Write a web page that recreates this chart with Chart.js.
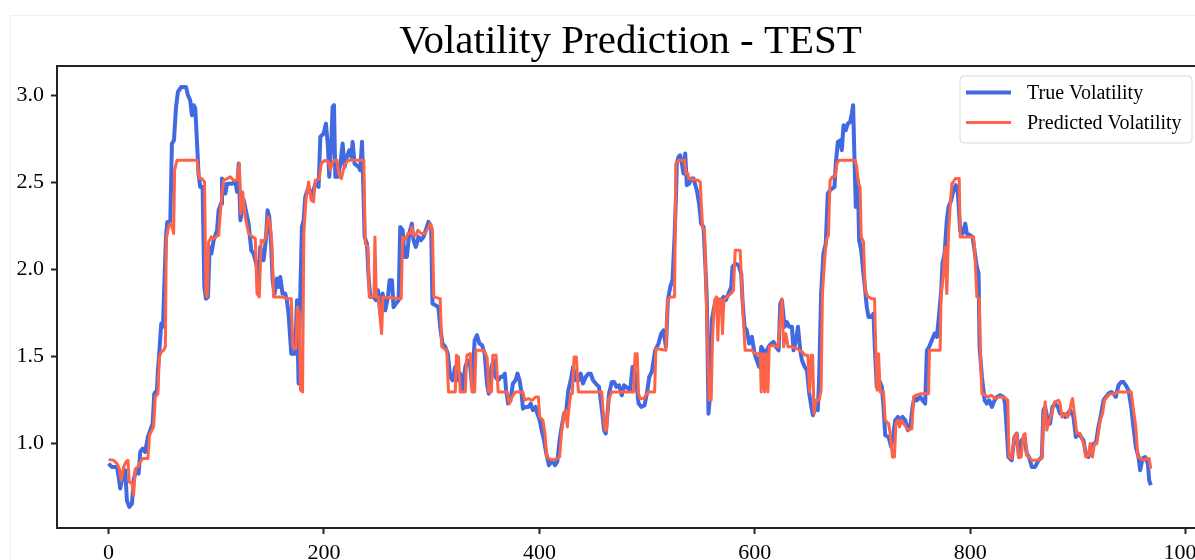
<!DOCTYPE html>
<html>
<head>
<meta charset="utf-8">
<title>Volatility Prediction - TEST</title>
<script src="https://cdn.jsdelivr.net/npm/chart.js@4.4.0/dist/chart.umd.min.js"></script>
<style>
    html, body { margin: 0; padding: 0; overflow: hidden; background: #fff; }
    #wrap { position: relative; width: 1215px; height: 560px; }
</style>
</head>
<body>
<div id="wrap"><canvas id="volChart" width="1215" height="560"></canvas></div>
<script>
const chartTitle = 'Volatility Prediction - TEST';
const seriesLabels = ['True Volatility', 'Predicted Volatility'];
const xTicks = [0, 200, 400, 600, 800, 1000];
const yTicks = [1.0, 1.5, 2.0, 2.5, 3.0];

// [time step, volatility]
const trueVolatility = [
    [0, 0.883], [3, 0.864], [7.8, 0.864], [9.3, 0.807], [10.8, 0.740], [12.4, 0.787], [14, 0.845], [15.5, 0.845],
    [17, 0.672], [19.2, 0.634], [21.7, 0.653], [23.2, 0.787], [25.4, 0.845], [27.9, 0.826], [29.4, 0.950], [31.6, 0.969],
    [34, 0.950], [36.5, 1.036], [38.7, 1.075], [40.9, 1.113], [42.4, 1.285], [44.9, 1.305], [45.8, 1.420], [47, 1.515],
    [48.9, 1.688], [50.5, 1.669], [52, 1.956], [53.3, 2.186], [54.5, 2.272], [57.3, 2.272], [58.8, 2.722], [60.7, 2.741],
    [62.6, 2.933], [64.4, 3.019], [67.5, 3.048], [71.9, 3.048], [73.7, 3.000], [75.8, 2.971], [77.4, 2.885], [79, 2.943],
    [80.5, 2.923], [82, 2.741], [83.6, 2.540], [85.1, 2.473], [87.3, 2.473], [88.9, 1.898], [90.4, 1.831], [92.3, 1.841],
    [93.8, 2.128], [95.4, 2.090], [97.6, 2.167], [100.7, 2.224], [102.2, 2.339], [104.4, 2.377], [105.3, 2.521], [108.4, 2.435],
    [110, 2.492], [114.6, 2.492], [117.7, 2.502], [119.3, 2.444], [120.8, 2.607], [122.4, 2.282], [125.5, 2.397],
    [130, 2.262], [132.5, 2.109], [134.6, 2.090], [137.8, 2.013], [139.3, 1.937], [140.8, 2.128], [143.9, 2.052], [146, 2.167],
    [147.6, 2.339], [149.2, 2.301], [151, 2.128], [152.3, 1.937], [154.1, 1.860], [156.3, 1.946], [157.8, 1.898], [159.4, 1.956],
    [161.5, 1.860], [164, 1.860], [165.5, 1.822], [167.1, 1.745], [169.6, 1.515], [173.3, 1.515], [174.9, 1.822], [176.4, 1.343],
    [177.4, 1.707], [179.5, 2.243], [181.1, 2.282], [182.6, 2.416], [185.7, 2.473], [188.8, 2.416], [191.9, 2.492], [195, 2.473],
    [196.6, 2.761], [199.7, 2.780], [201.8, 2.837], [203.7, 2.703], [204.9, 2.531], [206.8, 2.722], [208, 2.933], [209.3, 2.943],
    [210.5, 2.531], [213, 2.531], [215.2, 2.607], [217.3, 2.722], [219.2, 2.588], [221.3, 2.646], [223.5, 2.684], [225.4, 2.646],
    [226.6, 2.732], [228.4, 2.607], [232.2, 2.588], [233.6, 2.569], [235.3, 2.732], [236.8, 2.416], [237.7, 2.186], [239.9, 2.147],
    [241.4, 1.956], [243, 1.841], [246.1, 1.841], [248.2, 1.822], [250.1, 1.879], [252.3, 1.745], [254.4, 1.860], [256.9, 1.764],
    [259.4, 1.841], [260.9, 1.937], [263.1, 1.937], [264.6, 1.783], [266.8, 1.803], [269.3, 1.822], [270.8, 2.243], [273, 2.224],
    [274.8, 2.071], [277, 2.071], [279.1, 2.205], [281.6, 2.262], [283.1, 2.167], [285.3, 2.128], [287.8, 2.186], [290.2, 2.167],
    [292.4, 2.186], [294.5, 2.224], [297, 2.272], [299.5, 2.243], [300.7, 1.803],
    [306.2, 1.783], [307.9, 1.669], [310, 1.573], [312.5, 1.554], [315, 1.515], [317.2, 1.381], [319.4, 1.362], [321.9, 1.439],
    [324.4, 1.362], [326.5, 1.400], [328.7, 1.305], [331.2, 1.439], [333.4, 1.477], [335.9, 1.439], [337.4, 1.324], [339.9, 1.592],
    [342.1, 1.621], [344.3, 1.573], [346.8, 1.563], [349.2, 1.515], [351.4, 1.343], [353, 1.285], [355.5, 1.439], [357.6, 1.477],
    [359.2, 1.381], [361.7, 1.362], [363.8, 1.381], [365.4, 1.381], [367.9, 1.400], [369.1, 1.305], [371, 1.228], [373.2, 1.247],
    [375.4, 1.343], [377.9, 1.362], [379.7, 1.400], [381.6, 1.362], [383.5, 1.285], [384.7, 1.199], [387.2, 1.209], [389.7, 1.209],
    [391.9, 1.228], [394, 1.190], [396.5, 1.209], [398.1, 1.170], [400.3, 1.132], [402.1, 1.075], [404.3, 1.017], [406.4, 0.941],
    [408.9, 0.874], [412, 0.902], [414.5, 0.874], [416.6, 0.893], [418.8, 1.017], [420.7, 1.094], [422.9, 1.170], [425, 1.190],
    [426.9, 1.305], [429.1, 1.362], [431.3, 1.439], [433.7, 1.362], [436.2, 1.362], [438.4, 1.400], [440.5, 1.343], [443, 1.381],
    [445.5, 1.400], [447.7, 1.400], [449.8, 1.362], [452.3, 1.343], [455.4, 1.324], [458.5, 1.170], [460.1, 1.075], [461.6, 1.056],
    [463.2, 1.170], [464.7, 1.285], [467.2, 1.352], [469.4, 1.352], [471.5, 1.324], [474, 1.333], [476.5, 1.276], [478.6, 1.333],
    [484.3, 1.305], [486.5, 1.439], [488.3, 1.420], [490.5, 1.324], [492.1, 1.228], [494.5, 1.209], [497.6, 1.218], [499.8, 1.285],
    [502, 1.381], [504.4, 1.410], [507.5, 1.534], [510.6, 1.573], [513.1, 1.630], [515.3, 1.649], [517.5, 1.554], [519.3, 1.822],
    [521.5, 1.898], [523.6, 1.937], [525.5, 2.186], [526.7, 2.397], [527.6, 2.607], [529.2, 2.646], [530.7, 2.655], [532.3, 2.607],
    [533.8, 2.550], [535.4, 2.665], [536.9, 2.483], [539.1, 2.492], [540.9, 2.521], [543.1, 2.521], [546.2, 2.454], [548.3, 2.377],
    [550.2, 2.262], [552.4, 2.243], [553.9, 2.052], [555.5, 1.822], [557, 1.170], [558.6, 1.285], [560.1, 1.707], [561.7, 1.764],
    [563.8, 1.822], [566.3, 1.783], [568.8, 1.822], [571, 1.841], [573.1, 1.822], [575.6, 1.860], [578.1, 1.898], [579.3, 2.013],
    [581.8, 2.033], [584.9, 2.023], [587.4, 1.975], [588.6, 1.822], [590.5, 1.669], [592.6, 1.649], [594.8, 1.573], [597.3, 1.611],
    [599.8, 1.515], [601.9, 1.477], [604.1, 1.439], [606, 1.554], [608.2, 1.534], [610.3, 1.515], [612.8, 1.554], [615.3, 1.573],
    [617.4, 1.582], [619.6, 1.554], [622.1, 1.534], [623.7, 1.803], [625.2, 1.822], [627.7, 1.669], [629.8, 1.697], [632, 1.669],
    [634.5, 1.669], [636, 1.534], [638.2, 1.592], [640.1, 1.669], [642.2, 1.534], [643.8, 1.477], [646.3, 1.439], [648.4, 1.420],
    [650.6, 1.285], [652.5, 1.209], [654, 1.161],
    [656, 1.209], [658.5, 1.190], [659.7, 1.362], [661.6, 1.860], [663.7, 2.090], [665.9, 2.147], [667.8, 2.435], [669.9, 2.454],
    [672.1, 2.464], [674, 2.473], [675.2, 2.607], [677.1, 2.732], [679.3, 2.741], [680.8, 2.684], [682.4, 2.828], [684.5, 2.799],
    [686.4, 2.837], [688.6, 2.847], [690.1, 2.895], [691.3, 2.943], [692.6, 2.626], [693.8, 2.358], [695.7, 2.511], [696.9, 2.167],
    [698.8, 2.109], [700.9, 1.975], [702.5, 1.879], [704, 1.783], [705.6, 1.726], [708.1, 1.726], [710.2, 1.745], [711.8, 1.496],
    [713.3, 1.324], [715.5, 1.362], [718, 1.324], [719.5, 1.209], [721.1, 1.046], [724.2, 1.036], [726.7, 0.979], [728.8, 1.056],
    [730.4, 1.132], [732.9, 1.151], [735, 1.132], [737.2, 1.151], [739.7, 1.132], [742.2, 1.075], [744.3, 1.094], [746.5, 1.209],
    [748.3, 1.266], [750.5, 1.247], [753.6, 1.266], [755.7, 1.247], [758.2, 1.228], [759.8, 1.534], [761.9, 1.554], [764.4, 1.592],
    [766.9, 1.630], [769.1, 1.611], [771.2, 1.745], [773.1, 1.879], [774.3, 2.033], [776.2, 2.090], [778.3, 2.282], [779.9, 2.358],
    [782.4, 2.397], [784.5, 2.454], [786.7, 2.483], [788.6, 2.435], [790.7, 2.224], [792.9, 2.205], [795.4, 2.262], [796.9, 2.205],
    [800, 2.195], [802.2, 2.186], [804, 2.109], [806.2, 2.013], [807.8, 1.975], [808.7, 1.554], [810.9, 1.381], [813.4, 1.247],
    [815.5, 1.228], [817.7, 1.247], [820.2, 1.209], [822.6, 1.247], [824.8, 1.266], [827.9, 1.276], [831, 1.266],
    [832.4, 1.228], [835.5, 0.921], [838.6, 0.902], [841.1, 1.036], [843.2, 1.056], [845.4, 0.921], [847.9, 1.017], [850.4, 1.036],
    [852.5, 0.941], [854.7, 0.921], [857.2, 0.864], [860.3, 0.864], [863.4, 0.902], [866.5, 0.921], [868, 1.190], [869.6, 1.209],
    [872.1, 1.132], [874.2, 1.113], [876.4, 1.209], [878.9, 1.228], [881.4, 1.209], [883.5, 1.170], [885.7, 1.170], [888.2, 1.151],
    [890.6, 1.170], [892.8, 1.190], [895.9, 1.151], [898.1, 1.036], [900.5, 1.056], [903, 1.036], [905.2, 1.017], [907.3, 0.941],
    [909.8, 0.921], [912.3, 0.979], [914.5, 0.998], [916.7, 0.998], [919.1, 1.094], [921.6, 1.170], [923.8, 1.247], [926, 1.266],
    [928.4, 1.285], [930.9, 1.295], [933.1, 1.285], [935.2, 1.266], [937.7, 1.333], [940.2, 1.352], [942.4, 1.352], [944.5, 1.333],
    [947, 1.305], [949.5, 1.209], [951.6, 1.094], [953.8, 0.979], [956.3, 0.921], [957.8, 0.845], [960, 0.912], [962.5, 0.921],
    [965, 0.883], [966.2, 0.787], [967.7, 0.759]
];

const predictedVolatility = [
    [0, 0.906], [4.7, 0.902], [7.8, 0.883], [10, 0.854], [11.8, 0.787], [14, 0.864], [16.1, 0.893], [18, 0.902],
    [19.2, 0.778], [21.7, 0.768], [23.2, 0.701], [24.8, 0.854], [27.3, 0.864], [29.4, 0.893], [31.6, 0.912], [36.5, 0.912],
    [38, 1.046], [40.3, 1.075], [41.8, 1.094], [43.4, 1.266], [45.8, 1.285], [47.1, 1.496], [48.9, 1.525], [51.1, 1.534],
    [52.7, 1.554], [53.6, 2.176], [55.7, 2.243], [57.3, 2.262], [58.8, 2.243], [60.4, 2.205], [61.3, 2.569], [63.5, 2.626],
    [82, 2.626], [84.2, 2.521], [86.6, 2.521], [89.1, 2.502], [90.4, 1.860], [91.6, 1.841], [92.9, 2.157], [95.4, 2.186],
    [97.6, 2.176], [99.7, 2.186], [102.2, 2.195], [103.7, 2.320], [105.3, 2.435], [106.8, 2.511], [110, 2.521], [113, 2.531],
    [116.1, 2.511], [119.3, 2.511], [121.4, 2.607], [122.7, 2.320], [124.5, 2.444],
    [126.9, 2.301], [130, 2.205], [133.7, 2.186], [136.2, 2.176], [137.8, 1.860], [139.9, 1.841], [141.7, 2.167], [144, 2.157],
    [146, 2.186], [147.9, 2.301], [150.1, 2.262], [151.6, 2.147], [153.2, 1.841], [161.5, 1.841], [165.5, 1.831], [169.6, 1.831],
    [171.1, 1.554], [173.9, 1.544], [175.4, 1.783], [177, 1.745], [178.2, 1.305], [180.1, 1.295], [181.3, 2.205], [183.2, 2.397],
    [185.7, 2.502], [188.1, 2.397], [190.3, 2.387], [191.9, 2.511], [195.6, 2.521], [197.5, 2.607], [200.6, 2.626], [204.3, 2.617],
    [205.9, 2.569], [207.4, 2.607], [209.9, 2.626], [212.1, 2.626], [213.6, 2.550], [216.1, 2.521], [217.9, 2.569], [219.8, 2.607],
    [222.3, 2.626], [237, 2.626], [238.3, 2.147], [240.8, 2.128], [242, 1.841], [246.4, 1.841], [247.3, 2.186], [248.6, 1.841],
    [250.7, 1.841], [252.3, 1.707], [253.5, 1.630], [254.7, 1.841], [271.7, 1.831], [273, 2.186], [275.4, 2.167], [277.9, 2.205],
    [280.1, 2.205], [281.6, 2.243], [283.1, 2.195], [285.3, 2.195], [287.2, 2.224], [290.2, 2.205], [293.9, 2.205], [297, 2.243],
    [298.9, 2.262], [300.7, 2.224], [302, 1.841],
    [307.9, 1.831], [309.4, 1.554], [314, 1.534], [315.6, 1.295], [321.9, 1.295], [323, 1.506], [324.9, 1.496], [326.5, 1.295],
    [331.2, 1.295], [332.7, 1.506], [335.9, 1.515], [337.4, 1.295], [339.9, 1.295], [341.1, 1.534], [348.3, 1.534], [349.8, 1.515],
    [351.4, 1.496], [353, 1.295], [355.5, 1.295], [356.7, 1.506], [359.8, 1.506], [361.7, 1.295], [370, 1.295], [372.2, 1.228],
    [374.6, 1.266], [377.9, 1.295], [384.7, 1.295], [386.5, 1.247], [389.7, 1.257], [393.4, 1.247], [396.5, 1.266], [399, 1.266],
    [400.3, 1.151], [403.3, 1.132], [405.2, 1.056], [406.8, 0.921], [412, 0.902], [416.6, 0.912], [418.8, 0.921], [420.7, 1.075],
    [422.9, 1.170], [424.4, 1.190], [426, 1.094], [426.9, 1.170], [429.1, 1.285], [430.6, 1.285], [432.2, 1.496], [434.3, 1.496],
    [436.2, 1.295], [457.9, 1.295], [459.1, 1.190], [460.9, 1.075], [462.5, 1.075], [464, 1.247], [467.2, 1.295],
    [487.4, 1.295], [488.9, 1.515], [490.8, 1.515], [492.1, 1.285], [493.6, 1.257], [496.7, 1.257], [499.8, 1.285], [501.4, 1.295],
    [507, 1.295], [508.2, 1.544], [517.5, 1.534], [519, 1.822], [521.5, 1.841], [525.5, 1.841], [526.7, 2.607], [529.2, 2.626],
    [534.8, 2.626], [536, 2.550], [537.9, 2.550], [538.5, 2.521], [547.1, 2.511], [549.3, 2.502], [551.5, 2.243], [553.3, 2.224],
    [554.9, 1.841], [557.6, 1.247], [559.5, 1.247], [560.7, 1.592], [562.6, 1.822], [564.5, 1.841], [565.7, 1.592], [566.9, 1.831],
    [568.8, 1.822], [570, 1.630], [571.3, 1.822], [574, 1.841], [578.1, 1.860], [580.2, 1.879], [581.8, 2.109], [586.4, 2.109],
    [588, 1.898], [589.5, 1.707], [591, 1.534], [597.3, 1.534], [600.3, 1.515], [605, 1.515], [606, 1.295], [607.2, 1.515],
    [609.1, 1.295], [610.3, 1.515], [612.2, 1.295], [613.4, 1.554], [615.9, 1.563], [621.5, 1.554], [623.7, 1.707], [625.2, 1.831],
    [626.8, 1.554], [628.9, 1.630], [630.8, 1.554], [634.5, 1.554], [639.2, 1.544], [643.8, 1.525], [646.9, 1.506], [649.3, 1.506],
    [650.9, 1.295], [652.5, 1.506], [653.7, 1.506], [655, 1.170],
    [656.8, 1.247], [659.7, 1.247], [661.6, 1.305], [662.8, 1.860], [665.3, 2.090], [666.8, 2.176], [668.4, 2.195], [669.9, 2.511],
    [672.1, 2.531], [674.6, 2.531], [676.2, 2.607], [678.3, 2.626], [693.2, 2.626], [694.7, 2.588], [696.3, 2.492], [697.8, 2.473],
    [698.8, 2.186], [700.9, 2.157], [702.5, 1.879], [705, 1.841], [708.7, 1.831], [711.2, 1.831], [712.4, 1.515], [713.6, 1.305],
    [714.9, 1.515], [716.4, 1.295], [719.5, 1.295], [721.1, 1.132], [724.2, 1.113], [725.7, 1.056], [727.9, 0.921], [729.7, 0.921],
    [731, 1.113], [732.9, 1.132], [734.4, 1.094], [736, 1.132], [738.2, 1.113], [740.3, 1.094], [742.8, 1.075], [745.9, 1.084],
    [747.4, 1.266], [749.6, 1.276], [754.5, 1.285], [761.3, 1.285], [762.2, 1.534], [772.1, 1.534], [773, 1.860], [775.2, 1.975],
    [776.7, 2.128], [778.3, 1.860], [779.9, 2.205], [781.4, 2.358], [783, 2.492], [784.5, 2.502], [786.1, 2.521], [789.8, 2.521],
    [790.7, 2.186], [803.1, 2.186], [804, 2.128], [806.2, 1.841], [808.4, 1.831], [809.3, 1.554], [810.9, 1.285], [814, 1.276],
    [816.4, 1.266], [819.5, 1.276], [823.3, 1.257], [827, 1.266], [831, 1.266],
    [834.9, 1.247], [836.1, 0.921], [838.6, 0.912], [841.1, 1.036], [843.2, 1.056], [844.8, 0.921], [847.3, 0.921], [849.4, 1.046],
    [851, 1.056], [852.5, 0.931], [854.7, 0.921], [857.2, 0.902], [861.8, 0.902], [866.5, 0.912], [868, 1.132], [869.6, 1.238],
    [871.1, 1.075], [872.7, 1.113], [875.8, 1.170], [878.3, 1.238], [882, 1.247], [883.5, 1.228], [885.1, 1.151], [888.2, 1.170],
    [890.6, 1.151], [892.2, 1.180], [893.7, 1.228], [895, 1.257], [896.8, 1.170], [899, 1.056], [902.1, 1.056], [904.3, 1.017],
    [906.1, 0.979], [907.3, 0.921], [909.8, 0.931], [911.4, 0.998], [913.6, 0.921], [915.4, 0.998], [917.6, 0.998], [920.7, 1.132],
    [922.9, 1.170], [924.7, 1.247], [926.9, 1.266], [930, 1.285], [934.6, 1.285], [937.7, 1.295], [949.5, 1.295], [951.6, 1.190],
    [953.8, 1.094], [955.7, 0.921], [958.8, 0.912], [960.9, 0.902], [964, 0.912], [966.2, 0.912], [967.7, 0.854]
];

const trueColor = '#4169E1';   // royalblue
const predColor = '#FF6347';   // tomato
const serif = '"Liberation Serif", "Times New Roman", serif';

// matplotlib look: title, full frame, legend box in the upper right
const mplPlugin = {
    id: 'mplLook',
    beforeDraw(chart) {
        const ctx = chart.ctx;
        const area = chart.chartArea;
        ctx.save();
        ctx.fillStyle = '#fff';
        ctx.fillRect(0, 0, chart.width, chart.height);
        ctx.strokeStyle = '#f0f0f0';
        ctx.lineWidth = 1;
        ctx.beginPath();
        ctx.moveTo(10.5, chart.height);
        ctx.lineTo(10.5, 15.5);
        ctx.lineTo(chart.width, 15.5);
        ctx.stroke();
        ctx.fillStyle = '#000';
        ctx.font = '41px ' + serif;
        ctx.textAlign = 'center';
        ctx.textBaseline = 'alphabetic';
        ctx.fillText(chartTitle, (area.left + area.right) / 2, 53);
        ctx.restore();
    },
    afterDatasetsDraw(chart) {
        const ctx = chart.ctx;
        const area = chart.chartArea;
        ctx.save();
        // spines
        ctx.strokeStyle = '#222';
        ctx.lineWidth = 2;
        ctx.strokeRect(area.left, area.top, area.right - area.left, area.bottom - area.top);

        // legend
        const boxR = area.right - 12;
        const boxT = area.top + 10;
        const boxW = 232, boxH = 67, r = 4;
        const boxL = boxR - boxW;
        ctx.beginPath();
        ctx.moveTo(boxL + r, boxT);
        ctx.arcTo(boxR, boxT, boxR, boxT + boxH, r);
        ctx.arcTo(boxR, boxT + boxH, boxL, boxT + boxH, r);
        ctx.arcTo(boxL, boxT + boxH, boxL, boxT, r);
        ctx.arcTo(boxL, boxT, boxR, boxT, r);
        ctx.closePath();
        ctx.fillStyle = 'rgba(255,255,255,0.8)';
        ctx.fill();
        ctx.strokeStyle = '#d8d8d8';
        ctx.lineWidth = 1;
        ctx.stroke();

        ctx.font = '20px ' + serif;
        ctx.textAlign = 'left';
        ctx.textBaseline = 'middle';
        chart.data.datasets.forEach((ds, i) => {
            const y = boxT + 16.5 + i * 30;
            ctx.strokeStyle = ds.borderColor;
            ctx.lineWidth = ds.borderWidth;
            ctx.beginPath();
            ctx.moveTo(boxL + 6, y);
            ctx.lineTo(boxL + 51, y);
            ctx.stroke();
            ctx.fillStyle = '#000';
            ctx.fillText(ds.label, boxL + 67, y + 1);
        });
        ctx.restore();
    }
};

const axisGrid = {
    drawOnChartArea: false,
    drawTicks: true,
    tickLength: 6,
    tickWidth: 2,
    tickColor: '#222'
};

new Chart(document.getElementById('volChart'), {
    type: 'line',
    data: {
        datasets: [
            {
                label: seriesLabels[0],
                data: trueVolatility.map(([x, y]) => ({ x, y })),
                borderColor: trueColor,
                borderWidth: 4,
                pointRadius: 0,
                tension: 0,
                borderJoinStyle: 'round',
                order: 2
            },
            {
                label: seriesLabels[1],
                data: predictedVolatility.map(([x, y]) => ({ x, y })),
                borderColor: predColor,
                borderWidth: 3,
                pointRadius: 0,
                tension: 0,
                borderJoinStyle: 'round',
                order: 1
            }
        ]
    },
    options: {
        responsive: false,
        animation: false,
        devicePixelRatio: 1,
        layout: { padding: { left: 0, right: 11, top: 66, bottom: 0 } },
        plugins: {
            legend: { display: false },
            title: { display: false },
            tooltip: { enabled: false }
        },
        scales: {
            x: {
                type: 'linear',
                min: -47.9,
                max: 1017.1,
                afterBuildTicks: scale => { scale.ticks = xTicks.map(v => ({ value: v })); },
                afterFit: scale => { scale.height = 32; },
                grid: axisGrid,
                border: { display: false },
                ticks: {
                    padding: 6,
                    color: '#000',
                    autoSkip: false,
                    maxRotation: 0,
                    font: { family: serif, size: 22 },
                    callback: v => String(v)
                }
            },
            y: {
                min: 0.513,
                max: 3.168,
                afterBuildTicks: scale => { scale.ticks = yTicks.map(v => ({ value: v })); },
                afterFit: scale => { scale.width = 57; },
                grid: axisGrid,
                border: { display: false },
                ticks: {
                    padding: 7,
                    color: '#000',
                    font: { family: serif, size: 22 },
                    callback: v => v.toFixed(1)
                }
            }
        }
    },
    plugins: [mplPlugin]
});
</script>
</body>
</html>
